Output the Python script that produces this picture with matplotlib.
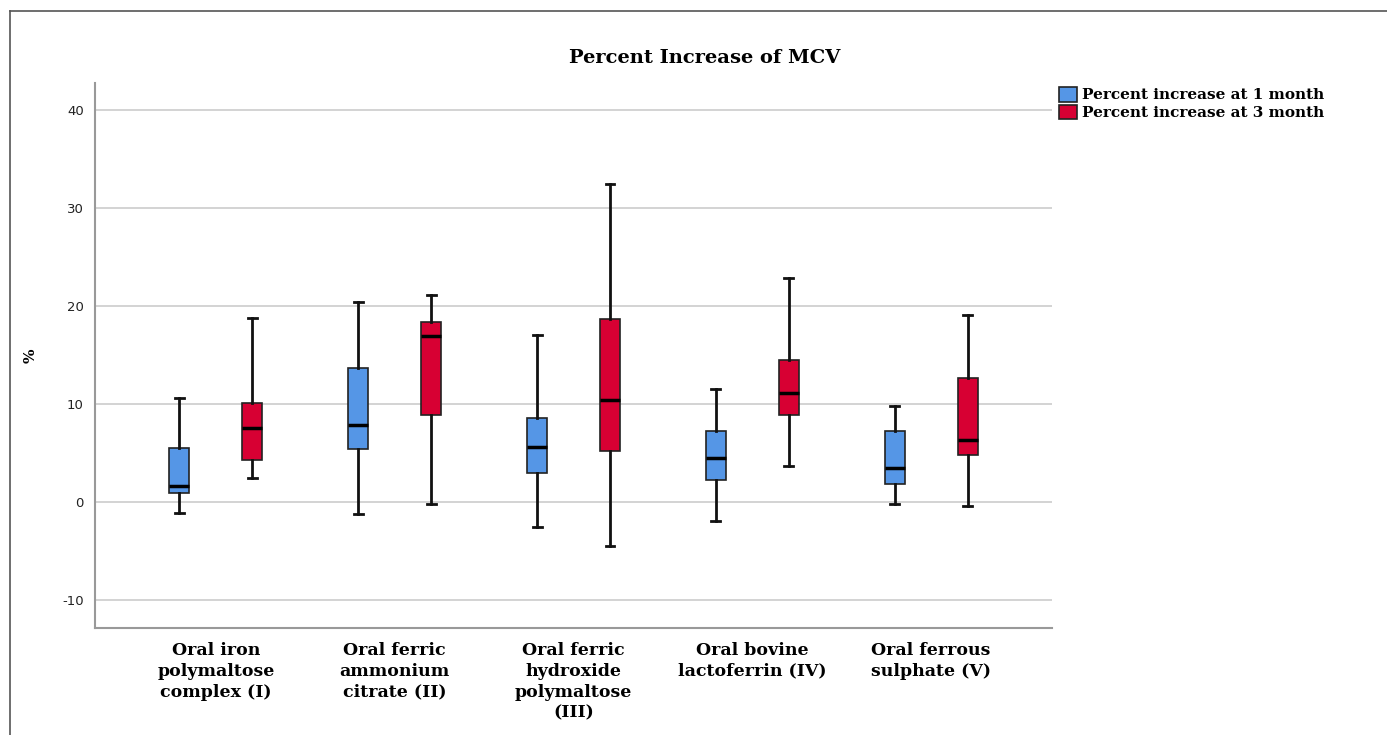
import numpy as np
import matplotlib.pyplot as plt
from matplotlib.patches import Patch
from matplotlib.lines import Line2D

# group labels on the x axis
groups = ['Oral iron\npolymaltose\ncomplex (I)', 'Oral ferric\nammonium\ncitrate (II)',
          'Oral ferric\nhydroxide\npolymaltose\n(III)', 'Oral bovine\nlactoferrin (IV)',
          'Oral ferrous\nsulphate (V)']
series = ['Percent increase at 1 month', 'Percent increase at 3 month']

# box stats: whisker low, Q1, median, Q3, whisker high
month1_low = [-1.1, -1.2, -2.55, -1.9, -0.2]
month1_q1 = [0.9, 5.4, 3.0, 2.25, 1.85]
month1_med = [1.6, 7.85, 5.6, 4.5, 3.5]
month1_q3 = [5.5, 13.7, 8.6, 7.2, 7.2]
month1_high = [10.6, 20.4, 17.0, 11.5, 9.8]

month3_low = [2.45, -0.2, -4.5, 3.7, -0.4]
month3_q1 = [4.3, 8.9, 5.2, 8.9, 4.8]
month3_med = [7.55, 16.9, 10.4, 11.1, 6.3]
month3_q3 = [10.1, 18.4, 18.7, 14.5, 12.65]
month3_high = [18.8, 21.1, 32.4, 22.9, 19.1]

colors = ['#5596E6', '#D70033']
serif = 'DejaVu Serif'

fig = plt.figure(figsize=(13.87, 7.35), dpi=100)
ax = fig.add_axes([0.0685, 0.1456, 0.69, 0.7415])

def make_stats(low, q1, med, q3, high):
    out = []
    for i in range(len(low)):
        out.append(dict(whislo=low[i], q1=q1[i], med=med[i], q3=q3[i], whishi=high[i], fliers=[]))
    return out

x = np.arange(len(groups))
offset = 0.204
all_stats = [make_stats(month1_low, month1_q1, month1_med, month1_q3, month1_high),
             make_stats(month3_low, month3_q1, month3_med, month3_q3, month3_high)]
for k, stats in enumerate(all_stats):
    pos = x + (offset if k else -offset)
    ax.bxp(stats, positions=pos, widths=0.112, patch_artist=True, showfliers=False,
           boxprops=dict(facecolor=colors[k], edgecolor='#222222', linewidth=1.2),
           medianprops=dict(color='black', linewidth=2.5),
           whiskerprops=dict(color='#111111', linewidth=2),
           capprops=dict(color='#111111', linewidth=2),
           capwidths=0.05, zorder=3)

ax.set_xlim(-0.676, 4.676)
ax.set_ylim(-12.86, 42.76)
ax.set_yticks([-10, 0, 10, 20, 30, 40])
ax.set_yticklabels(['-10', '0', '10', '20', '30', '40'], fontsize=9.5, color='#222222')
ax.yaxis.grid(True, color='#cccccc', linewidth=1.2)
ax.set_axisbelow(True)
ax.set_xticks(x)
ax.set_xticklabels(groups, fontsize=12.5, fontweight='bold', family=serif,
                   linespacing=1.3, va='top')
ax.tick_params(axis='both', length=0, pad=8)
ax.tick_params(axis='x', pad=10)
for s in ['top', 'right']:
    ax.spines[s].set_visible(False)
for s in ['left', 'bottom']:
    ax.spines[s].set_color('#999999')
    ax.spines[s].set_linewidth(1.5)

ax.set_ylabel('%', fontsize=11, fontweight='bold', family=serif)
ax.yaxis.set_label_coords(-0.06, 0.5)
fig.text(705 / 1387, 1 - 58 / 735, 'Percent Increase of MCV', fontsize=14, fontweight='bold',
         family=serif, ha='center', va='center')

handles = [Patch(facecolor=colors[0], edgecolor='#222222', linewidth=1.2),
           Patch(facecolor=colors[1], edgecolor='#222222', linewidth=1.2)]
fig.legend(handles, series, loc='upper left', bbox_to_anchor=(0.759, 0.89), frameon=False,
           prop=dict(family=serif, weight='bold', size=11),
           handlelength=1.2, handleheight=1.1, handletextpad=0.3, labelspacing=0.15,
           borderaxespad=0)

# outer frame on the left and top edges
fig.add_artist(Line2D([0.0075, 0.0075], [0, 0.985], color='#555555', linewidth=1.2))
fig.add_artist(Line2D([0.0075, 1.0], [0.985, 0.985], color='#555555', linewidth=1.2))

fig.savefig('out.png', dpi=100)
